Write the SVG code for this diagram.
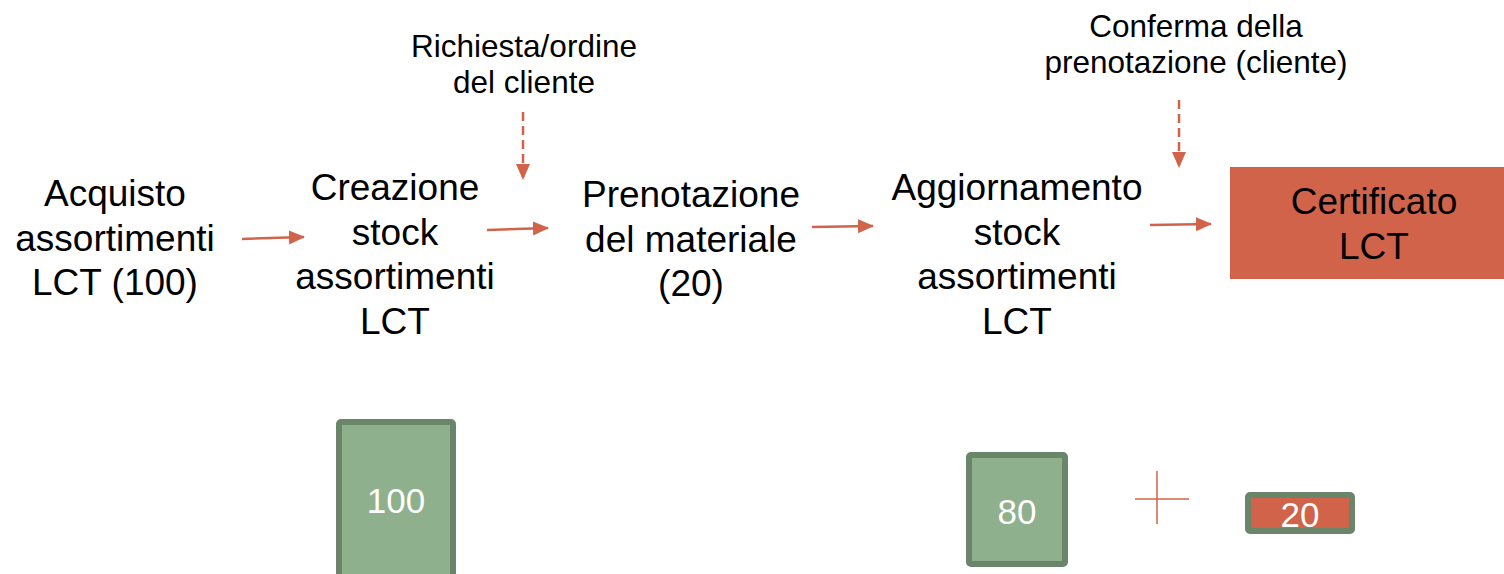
<svg xmlns="http://www.w3.org/2000/svg" width="1504" height="574" viewBox="0 0 1504 574">
<style>
  .t { font-family: "Liberation Sans", Arial, sans-serif; font-size: 37px; fill: #000; text-anchor: middle; }
  .s { font-family: "Liberation Sans", Arial, sans-serif; font-size: 31.5px; fill: #000; text-anchor: middle; }
  .n { font-family: "Liberation Sans", Arial, sans-serif; font-size: 35px; fill: #fff; text-anchor: middle; }
  .arr { stroke: #D0634A; stroke-width: 2.5; fill: none; marker-end: url(#ah); }
  .dash { stroke: #D0634A; stroke-width: 2.5; fill: none; stroke-dasharray: 9 5; marker-end: url(#ah); }
  .stk { fill: #8FB08C; stroke: #6B856A; stroke-width: 6; }
</style>
<defs>
  <marker id="ah" markerUnits="userSpaceOnUse" markerWidth="16" markerHeight="16" viewBox="0 0 16 16" refX="15" refY="8" orient="auto">
    <path d="M0,1 L16,8 L0,15 Z" fill="#D0634A"/>
  </marker>
</defs>
<rect width="1504" height="574" fill="#fff"/>
<g id="n-acquisto">
  <text class="t" x="115" y="206">Acquisto</text>
  <text class="t" x="115" y="251">assortimenti</text>
  <text class="t" x="115" y="295">LCT (100)</text>
</g>
<g id="n-creazione">
  <text class="t" x="395" y="200">Creazione</text>
  <text class="t" x="395" y="245">stock</text>
  <text class="t" x="395" y="289">assortimenti</text>
  <text class="t" x="395" y="334">LCT</text>
</g>
<g id="n-richiesta">
  <text class="s" x="524" y="57">Richiesta/ordine</text>
  <text class="s" x="524" y="93">del cliente</text>
</g>
<g id="n-prenotazione">
  <text class="t" x="691" y="207">Prenotazione</text>
  <text class="t" x="691" y="252">del materiale</text>
  <text class="t" x="691" y="296">(20)</text>
</g>
<g id="n-aggiornamento">
  <text class="t" x="1017" y="200">Aggiornamento</text>
  <text class="t" x="1017" y="245">stock</text>
  <text class="t" x="1017" y="289">assortimenti</text>
  <text class="t" x="1017" y="334">LCT</text>
</g>
<g id="n-conferma">
  <text class="s" x="1196" y="37">Conferma della</text>
  <text class="s" x="1196" y="73">prenotazione (cliente)</text>
</g>
<g id="n-certificato">
  <rect x="1230" y="167" width="274" height="112" fill="#D0634A"/>
  <text class="t" x="1374" y="214">Certificato</text>
  <text class="t" x="1374" y="259">LCT</text>
</g>
<g id="n-box100">
  <rect class="stk" x="339" y="422" width="114" height="200" rx="2"/>
  <text class="n" x="396" y="513">100</text>
</g>
<g id="n-box80">
  <rect class="stk" x="969" y="455" width="96" height="109" rx="2"/>
  <text class="n" x="1017" y="524">80</text>
</g>
<g id="n-plus">
  <line x1="1135" y1="499" x2="1189" y2="499" stroke="#D0634A" stroke-width="1.5"/>
  <line x1="1157" y1="471" x2="1157" y2="524" stroke="#D0634A" stroke-width="1.5"/>
</g>
<g id="n-box20">
  <rect x="1248" y="495" width="104" height="36" rx="2" fill="#D0634A" stroke="#6B856A" stroke-width="6"/>
  <text class="n" x="1300" y="527">20</text>
</g>
<g id="connectors">
  <line class="arr" x1="242" y1="239" x2="304" y2="237"/>
  <line class="arr" x1="487" y1="230" x2="548" y2="228"/>
  <line class="arr" x1="812" y1="227" x2="873" y2="226"/>
  <line class="arr" x1="1150" y1="225" x2="1211" y2="224"/>
  <line class="dash" x1="523" y1="112" x2="523" y2="179"/>
  <line class="dash" x1="1179" y1="100" x2="1179" y2="167"/>
</g>
</svg>
